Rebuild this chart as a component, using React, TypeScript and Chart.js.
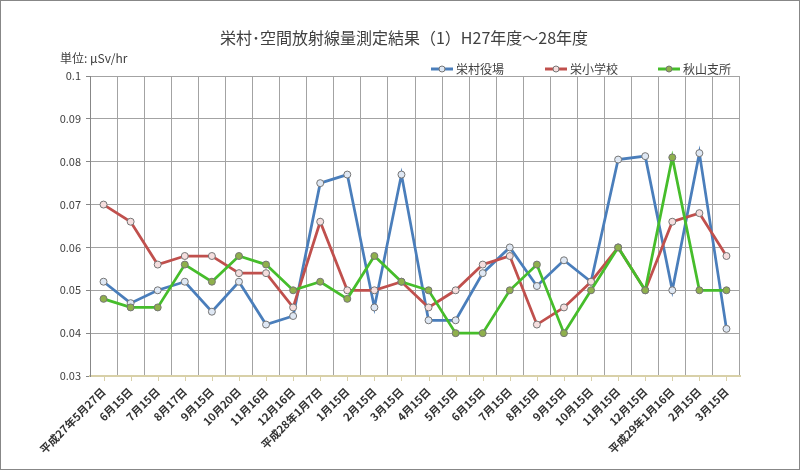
import React, { useEffect, useRef } from "react";
import { Chart, registerables } from "chart.js";

Chart.register(...registerables);

const TITLE = "栄村･空間放射線量測定結果（1）H27年度～28年度";
const UNIT = "単位: μSv/hr";

const categories = [
  "平成27年5月27日", "6月15日", "7月15日", "8月17日", "9月15日", "10月20日",
  "11月16日", "12月16日", "平成28年1月7日", "1月15日", "2月15日", "3月15日",
  "4月15日", "5月15日", "6月15日", "7月15日", "8月15日", "9月15日",
  "10月15日", "11月15日", "12月15日", "平成29年1月16日", "2月15日", "3月15日",
];

const seriesNames = ["栄村役場", "栄小学校", "秋山支所"];

const sakaemuraYakuba = [
  0.052, 0.047, 0.050, 0.052, 0.045, 0.052, 0.042, 0.044, 0.075, 0.077, 0.046, 0.077,
  0.043, 0.043, 0.054, 0.060, 0.051, 0.057, 0.052, 0.0805, 0.0813, 0.050, 0.082, 0.041,
];
const sakaeShogakko = [
  0.070, 0.066, 0.056, 0.058, 0.058, 0.054, 0.054, 0.046, 0.066, 0.050, 0.050, 0.052,
  0.046, 0.050, 0.056, 0.058, 0.042, 0.046, 0.052, 0.060, 0.050, 0.066, 0.068, 0.058,
];
const akiyamaShisho = [
  0.048, 0.046, 0.046, 0.056, 0.052, 0.058, 0.056, 0.050, 0.052, 0.048, 0.058, 0.052,
  0.050, 0.040, 0.040, 0.050, 0.056, 0.040, 0.050, 0.060, 0.050, 0.081, 0.050, 0.050,
];

const yMin = 0.03;
const yMax = 0.1;
const yStep = 0.01;

const lineColors = ["#4a7ebb", "#c0504d", "#46bd2b"];
const pointFills = ["#dfe8f4", "#f5dede", "#8fb04c"];
const FONT = '"Noto Sans CJK JP", "Noto Sans", sans-serif';

const decorPlugin = {
  id: "decor",
  afterDraw(chart: any) {
    const ctx = chart.ctx as CanvasRenderingContext2D;
    ctx.save();
    // outer border
    ctx.strokeStyle = "#878787";
    ctx.lineWidth = 1;
    ctx.strokeRect(0.5, 0.5, 799, 469);
    // title
    ctx.fillStyle = "#404040";
    ctx.font = `16px ${FONT}`;
    ctx.textAlign = "center";
    ctx.textBaseline = "middle";
    ctx.fillText(TITLE, 404, 38);
    // unit
    ctx.font = `12px ${FONT}`;
    ctx.textAlign = "left";
    ctx.fillText(UNIT, 60, 58);
    // legend
    const legendX = [431, 545, 658];
    chart.data.datasets.forEach((ds: any, i: number) => {
      const x = legendX[i];
      const y = 69;
      ctx.strokeStyle = ds.borderColor;
      ctx.lineWidth = 3;
      ctx.beginPath();
      ctx.moveTo(x, y);
      ctx.lineTo(x + 22, y);
      ctx.stroke();
      ctx.beginPath();
      ctx.arc(x + 11, y, 3, 0, Math.PI * 2);
      ctx.fillStyle = ds.pointBackgroundColor;
      ctx.fill();
      ctx.strokeStyle = "#757575";
      ctx.lineWidth = 1;
      ctx.stroke();
      ctx.fillStyle = "#404040";
      ctx.font = `12px ${FONT}`;
      ctx.fillText(ds.label, x + 25, y);
    });
    // x tick marks at category centers
    const xs = chart.scales.x;
    const bottom = chart.chartArea.bottom;
    ctx.strokeStyle = "#d8d0a8";
    ctx.lineWidth = 1;
    for (let i = 0; i < chart.data.labels.length; i++) {
      const px = Math.round(xs.getPixelForValue(i)) + 0.5;
      ctx.beginPath();
      ctx.moveTo(px, bottom);
      ctx.lineTo(px, bottom + 5);
      ctx.stroke();
    }
    ctx.restore();
  },
};

export default function App() {
  const ref = useRef<HTMLCanvasElement | null>(null);

  useEffect(() => {
    if (!ref.current) return;
    const series = [sakaemuraYakuba, sakaeShogakko, akiyamaShisho];
    const chart = new Chart(ref.current, {
      type: "line",
      data: {
        labels: categories,
        datasets: series.map((d, i) => ({
          label: seriesNames[i],
          data: d,
          borderColor: lineColors[i],
          backgroundColor: lineColors[i],
          borderWidth: 2.75,
          pointRadius: 3.5,
          pointHoverRadius: 3.5,
          pointBackgroundColor: pointFills[i],
          pointBorderColor: "#757575",
          pointBorderWidth: 1,
          tension: 0,
          fill: false,
          order: 3 - i,
        })),
      },
      options: {
        responsive: false,
        animation: false,
        events: [],
        layout: { padding: { top: 76, right: 60, left: 0, bottom: 0 } },
        plugins: {
          legend: { display: false },
          title: { display: false },
          tooltip: { enabled: false },
        },
        scales: {
          x: {
            type: "category",
            offset: true,
            grid: {
              offset: true,
              color: "#a3a3a3",
              lineWidth: 1,
              drawTicks: true,
              tickLength: 5,
              tickColor: "rgba(0,0,0,0)",
            },
            border: { color: "#d8d0a8", width: 2 },
            ticks: {
              autoSkip: false,
              maxRotation: 45,
              minRotation: 45,
              color: "#333333",
              padding: 4,
              font: { size: 11, family: FONT, weight: "bold" },
            },
            afterFit: (s: any) => {
              s.height = 94;
            },
          },
          y: {
            min: yMin,
            max: yMax,
            grid: { color: "#a3a3a3", lineWidth: 1, tickLength: 4, tickColor: "#878787" },
            border: { color: "#878787" },
            ticks: {
              stepSize: yStep,
              color: "#404040",
              padding: 5,
              font: { size: 11, family: FONT },
              callback: (v: any) => Number(Number(v).toFixed(2)).toString(),
            },
            afterFit: (s: any) => {
              s.width = 90;
            },
          },
        },
      },
      plugins: [decorPlugin],
    });
    return () => chart.destroy();
  }, []);

  return (
    <div style={{ position: "absolute", left: 0, top: 0, width: 800, height: 470, background: "#fff" }}>
      <canvas ref={ref} width={800} height={470} style={{ display: "block", width: 800, height: 470 }} />
    </div>
  );
}
